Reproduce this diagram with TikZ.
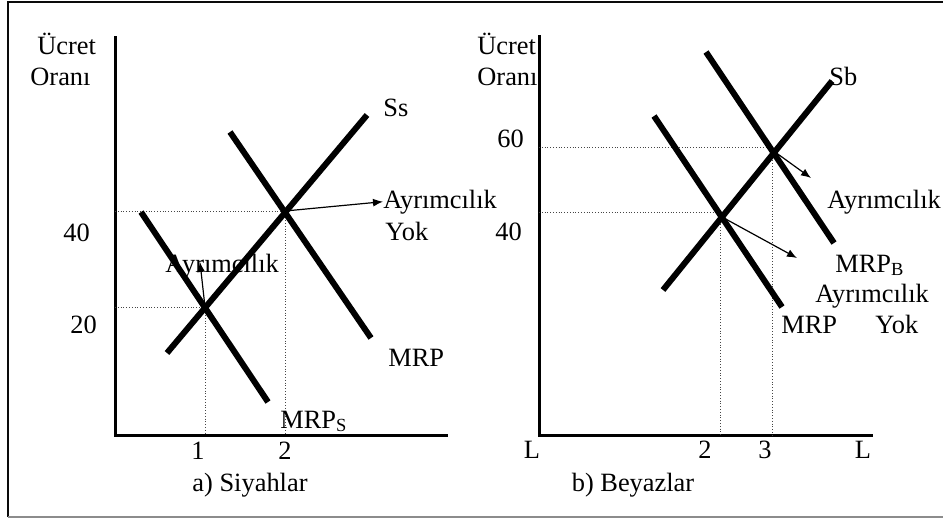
\documentclass[tikz,border=0pt]{standalone}
\usepackage{fontspec}
\setmainfont{Liberation Serif}
\usetikzlibrary{arrows.meta}
\definecolor{Frame}{RGB}{ 10, 10, 10}
\definecolor{FrameB}{RGB}{140,140,140}
\definecolor{Guide}{RGB}{ 70, 70, 70}

\begin{document}
\begin{tikzpicture}[x=0.5pt, y=-0.5pt, font=\fontsize{13.2}{15}\selectfont,
    curve/.style={line width=3pt},
    axis/.style={line width=1.5pt},
    guide/.style={Guide, densely dotted, line width=0.4pt},
    shiftarrow/.style={-{Latex[length=5pt, width=4pt]}, line width=0.6pt},
    lbl/.style={anchor=base west, inner sep=0pt},
    num/.style={anchor=base, inner sep=0pt}]

    \useasboundingbox (0,0) rectangle (943,520);

    %% Frame
    \draw[Frame, line width=1pt] (8,517) -- (8,1.5) -- (943,1.5);
    \draw[FrameB, line width=0.6pt] (8,517) -- (943,517);

    %% ===== a) Siyahlar =====
    \coordinate (Oa) at (115,435);
    \coordinate (Xa) at (205,307);   % Ss x MRP_S
    \coordinate (Ya) at (285,211);   % Ss x MRP

    \draw[axis] (115,36) -- (Oa) -- (448,435);

    %% Guides
    \draw[guide] (115,211) -- (Ya) -- (285,435);
    \draw[guide] (115,307) -- (Xa) -- (205,435);

    %% Curves
    \draw[curve] (167,353) -- (367,115);
    \draw[curve] (230,132) -- (371,338);
    \draw[curve] (141,212) -- (268,402);

    %% Labels
    \node[lbl] (ucA) at (37,54) {Ücret};
    \node[lbl] (orA) at (30,85) {Oranı};
    \node[lbl] (w40a) at (63,241) {40};
    \node[lbl] (w20a) at (70,333) {20};
    \node[num] (l1a) at (198,459) {1};
    \node[num] (l2a) at (285,459) {2};
    \node[num] (capA) at (250,491) {a) Siyahlar};
    \node[lbl] (ssA) at (383,116) {Ss};
    \node[lbl] (mrpA) at (388,366) {MRP};
    \node[lbl] (mrpsA) at (280,428) {MRP\textsubscript{S}};
    \node[lbl] (noDiscA) at (383,208) {Ayrımcılık};
    \node[lbl] (yokA) at (385,240) {Yok};
    \node[lbl] (discA) at (165,272) {Ayrımcılık};

    %% Shifts
    \draw[shiftarrow] (Ya) -- (noDiscA.west);
    \draw[shiftarrow] (Xa) -- (200,262);

    %% ===== b) Beyazlar =====
    \coordinate (Ob) at (539,435);
    \coordinate (Xb) at (722,217);   % Sb x MRP
    \coordinate (Yb) at (775,152);   % Sb x MRP_B

    \draw[axis] (539,35) -- (Ob) -- (873,435);

    %% Guides
    \draw[guide] (539,147) -- (772,147) -- (772,435);
    \draw[guide] (539,212) -- (720,212) -- (720,435);

    %% Curves
    \draw[curve] (663,290) -- (832,81);
    \draw[curve] (706,52) -- (834,243);
    \draw[curve] (654,116) -- (782,307);

    %% Labels
    \node[lbl] (ucB) at (477,54) {Ücret};
    \node[lbl] (orB) at (477,85) {Oranı};
    \node[lbl] (w60b) at (497,147) {60};
    \node[lbl] (w40b) at (495,240) {40};
    \node[num] (lLb) at (532,458) {L};
    \node[num] (l2b) at (705,458) {2};
    \node[num] (l3b) at (765,458) {3};
    \node[num] (lRb) at (863,458) {L};
    \node[num] (capB) at (633,491) {b) Beyazlar};
    \node[lbl] (sbB) at (829,85) {Sb};
    \node[lbl] (discB) at (827,208) {Ayrımcılık};
    \node[lbl] (mrpbB) at (835,272) {MRP\textsubscript{B}};
    \node[lbl] (noDiscB) at (815,302) {Ayrımcılık};
    \node[lbl] (mrpB) at (781,333) {MRP};
    \node[lbl] (yokB) at (875,333) {Yok};

    %% Shifts
    \coordinate (hdB1) at (811,178);
    \coordinate (hdB2) at (797,258);
    \draw[shiftarrow] (Yb) -- (hdB1);
    \draw[shiftarrow] (Xb) -- (hdB2);

\end{tikzpicture}
\end{document}
